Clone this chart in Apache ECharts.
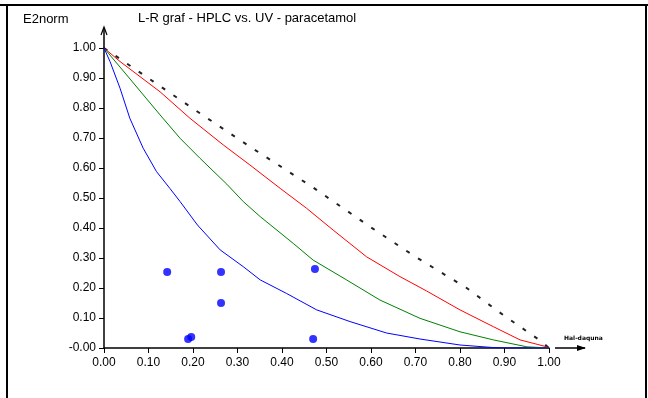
<!DOCTYPE html>
<html>
<head>
<meta charset="utf-8">
<script src="https://cdn.jsdelivr.net/npm/echarts@6/dist/echarts.min.js"></script>
<style>
  html, body { margin: 0; padding: 0; background: #fff; }
  #chart { width: 648px; height: 398px; }
</style>
</head>
<body>
<div id="chart"></div>
<script>
// curves: [x, E2norm]
const blueCurve = [[0, 1], [0.0135, 0.955], [0.036, 0.866], [0.058, 0.766], [0.088, 0.666], [0.118, 0.588],
    [0.148, 0.532], [0.171, 0.488], [0.21, 0.41], [0.261, 0.327], [0.313, 0.271], [0.351, 0.227],
    [0.41, 0.182], [0.478, 0.127], [0.553, 0.088], [0.635, 0.05], [0.71, 0.03], [0.8, 0.01],
    [0.87, 0.002], [0.9, 0], [1, 0]]
const greenCurve = [[0, 1], [0.051, 0.91], [0.126, 0.777], [0.171, 0.699], [0.216, 0.632], [0.276, 0.546],
    [0.313, 0.488], [0.351, 0.438], [0.425, 0.349], [0.47, 0.293], [0.545, 0.227], [0.62, 0.16],
    [0.71, 0.099], [0.8, 0.054], [0.875, 0.027], [0.95, 0.004], [1, 0]]
const redCurve = [[0, 1], [0.036, 0.955], [0.126, 0.854], [0.193, 0.766], [0.268, 0.677], [0.328, 0.61],
    [0.396, 0.532], [0.455, 0.466], [0.515, 0.393], [0.59, 0.304], [0.665, 0.238], [0.725, 0.19],
    [0.8, 0.127], [0.875, 0.071], [0.935, 0.027], [0.995, 0.004], [1, 0]]
const diagonal = [[0, 1], [0.111, 0.888], [0.216, 0.782], [0.328, 0.671], [0.47, 0.535], [0.598, 0.404],
    [0.702, 0.302], [0.815, 0.2], [0.897, 0.11], [0.98, 0.025], [1, 0]]
const samplePoints = [[0.142, 0.253], [0.263, 0.253], [0.474, 0.263], [0.263, 0.15], [0.189, 0.03],
    [0.196, 0.037], [0.47, 0.03]]

const chartTitle = 'L-R graf - HPLC vs. UV - paracetamol'
const yName = 'E2norm'
const xName = 'Hal-daquna'

const labelFont = { color: '#000', fontSize: 12, fontFamily: 'Liberation Sans' }

let chart = echarts.init(document.getElementById('chart'))

let lineSeries = function (data, color, dashed) {
    return {
        type: 'line',
        data: data,
        showSymbol: false,
        smooth: false,
        silent: true,
        z: dashed ? 2 : 3,
        lineStyle: { color: color, width: dashed ? 2 : 1, type: dashed ? [4, 10] : 'solid' }
    }
}

let option = {
    animation: false,
    backgroundColor: '#fff',
    title: {
        text: chartTitle,
        left: 138,
        top: 12,
        padding: 0,
        textStyle: { color: '#000', fontSize: 13, fontWeight: 'normal', fontFamily: 'Liberation Sans' }
    },
    grid: { left: 104, right: 99, top: 48, bottom: 50 },
    xAxis: {
        type: 'value',
        min: 0,
        max: 1,
        interval: 0.1,
        axisLine: { lineStyle: { color: '#000', width: 1.5 } },
        axisTick: { show: true, length: 5, lineStyle: { color: '#000' } },
        axisLabel: Object.assign({ margin: 9, formatter: v => v.toFixed(2) }, labelFont),
        splitLine: { show: false }
    },
    yAxis: {
        type: 'value',
        min: 0,
        max: 1,
        interval: 0.1,
        axisLine: { show: true, lineStyle: { color: '#000', width: 1.5 } },
        axisTick: { show: true, length: 5, lineStyle: { color: '#000' } },
        axisLabel: Object.assign({ margin: 8, formatter: v => (v === 0 ? '-0.00' : v.toFixed(2)) }, labelFont),
        splitLine: { show: false }
    },
    series: [
        lineSeries(diagonal, '#222', true),
        lineSeries(redCurve, '#ff0000', false),
        lineSeries(greenCurve, '#008000', false),
        lineSeries(blueCurve, '#0000ff', false),
        {
            type: 'scatter',
            data: samplePoints,
            symbol: 'circle',
            symbolSize: 8,
            z: 4,
            itemStyle: { color: '#0000ff' }
        }
    ]
}
chart.setOption(option)

// axis arrows, frame and axis names
let origin = chart.convertToPixel({ gridIndex: 0 }, [0, 0])
let yTop = chart.convertToPixel({ gridIndex: 0 }, [0, 1])
let xEnd = chart.convertToPixel({ gridIndex: 0 }, [1, 0])
let ax = origin[0]
let ay = origin[1]
chart.setOption({
    graphic: [
        { type: 'rect', shape: { x: 0, y: 4, width: 648, height: 2 }, style: { fill: '#000' } },
        { type: 'rect', shape: { x: 6, y: 4, width: 2, height: 394 }, style: { fill: '#000' } },
        { type: 'rect', shape: { x: 645, y: 4, width: 2, height: 394 }, style: { fill: '#000' } },
        { type: 'line', shape: { x1: ax, y1: yTop[1], x2: ax, y2: yTop[1] - 20 }, style: { stroke: '#000', lineWidth: 1.5 } },
        { type: 'polyline', shape: { points: [[ax - 3, yTop[1] - 13], [ax, yTop[1] - 21], [ax + 3, yTop[1] - 13]] }, style: { stroke: '#000', lineWidth: 1.2, fill: null } },
        { type: 'line', shape: { x1: xEnd[0] + 6, y1: ay, x2: xEnd[0] + 36, y2: ay }, style: { stroke: '#000', lineWidth: 1.5 } },
        { type: 'polygon', shape: { points: [[xEnd[0] + 28, ay - 3], [xEnd[0] + 37, ay], [xEnd[0] + 28, ay + 3]] }, style: { fill: '#000' } },
        {
            type: 'text', left: 23, top: 13,
            style: { text: yName, fill: '#000', font: '13px "Liberation Sans"' }
        },
        {
            type: 'text', left: xEnd[0] + 15, top: ay - 13,
            style: { text: xName, fill: '#000', font: 'bold 6px "DejaVu Sans"' }
        }
    ]
})
</script>
</body>
</html>
